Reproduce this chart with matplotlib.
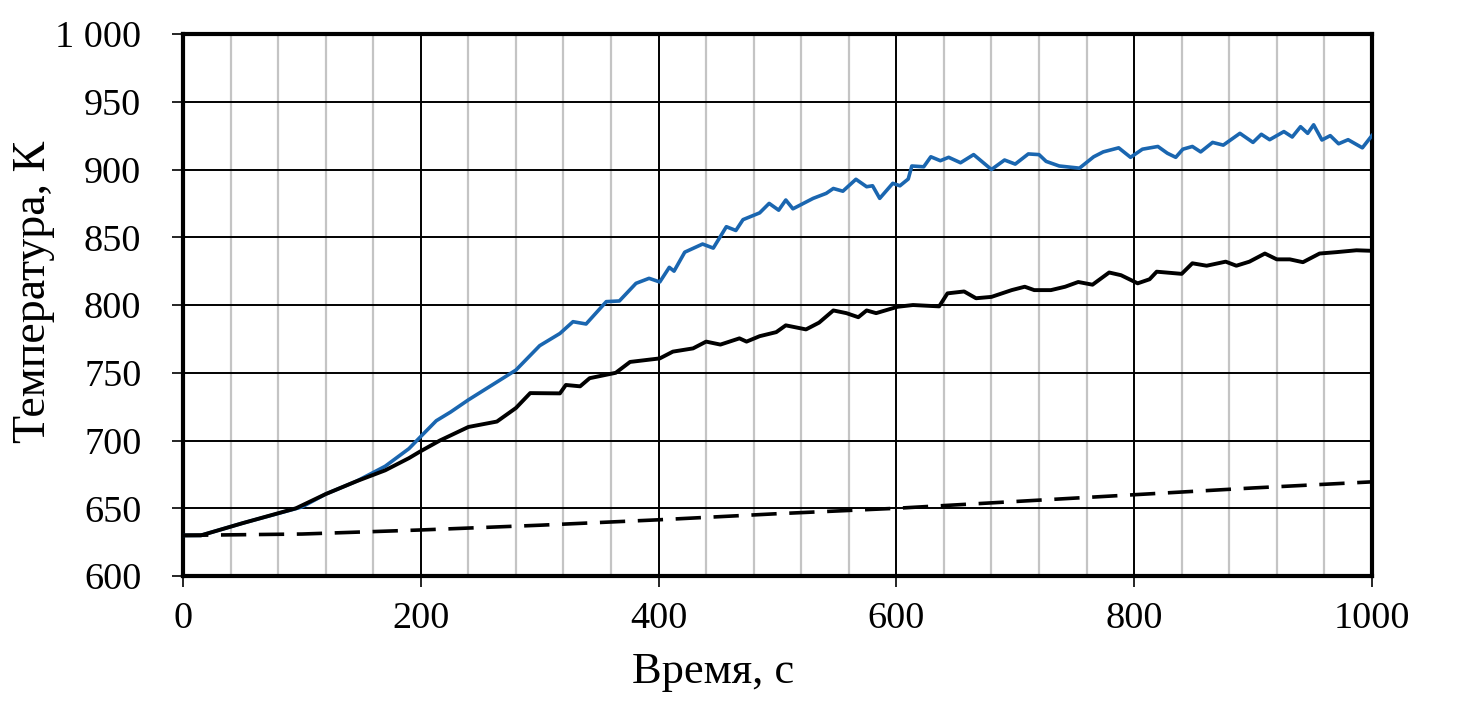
"""Temperature vs time: three curves (blue, black solid, black dashed)."""
import matplotlib
matplotlib.use("Agg")
import matplotlib.pyplot as plt
from matplotlib.ticker import MultipleLocator, FuncFormatter

plt.rcParams["font.family"] = ["Liberation Serif", "DejaVu Serif"]

# Values
blue_t = [0, 15, 50, 100, 120, 146, 170, 190, 200, 213, 225, 240, 260, 280, 300,
          317, 328, 339, 356, 367, 381, 392, 401, 409, 413, 422, 437, 446, 457, 465,
          471, 485, 493, 501, 507, 513, 530, 541, 547, 555, 566, 575, 580, 586, 597,
          603, 610, 613, 623, 629, 637, 644, 654, 665, 680, 691, 700, 711, 720, 726,
          737, 754, 766, 774, 787, 797, 807, 820, 828, 835, 841, 849, 856, 866, 875,
          889, 900, 907, 914, 926, 933, 940, 946, 951, 958, 965, 972, 980, 992, 1000]
blue_T = [630, 630, 639, 651, 660.5, 670, 681, 694, 703, 714.6, 721, 730, 741, 752, 770,
          779, 787.7, 786, 802.5, 803, 816, 819.7, 817, 827.8, 825, 839, 845, 842, 857.8, 855,
          863, 868, 875, 870, 877.5, 871, 878.7, 882.4, 886, 884, 892.8, 887.3, 888, 878.7, 889.8,
          888, 893, 902.6, 902, 909.4, 906.5, 909, 905, 911, 900, 907, 904, 911.5, 911, 906,
          902.6, 901, 909.4, 913, 916, 909, 915, 917, 912, 909, 915, 917, 913, 920, 918,
          926.7, 920, 926, 922, 928, 924, 931.6, 926.7, 933, 921.8, 925, 919, 922, 916, 925]

black_t = [0, 15, 50, 95, 120, 146, 170, 190, 199, 216, 240, 264, 280, 292, 317,
           322, 334, 342, 364, 376, 401, 412, 429, 440, 452, 468, 474, 485, 499, 507,
           524, 535, 547, 558, 568, 575, 583, 601, 614, 636, 643, 657, 667, 680, 697,
           708, 716, 730, 742, 753, 765, 779, 789, 803, 813, 819, 840, 849, 861, 877,
           886, 897, 910, 920, 931, 942, 956, 970, 987, 1000]
black_T = [630, 630, 639, 650, 660.5, 670, 678, 687, 691.7, 700, 710, 714, 724, 735, 734.8,
           741, 740, 746, 750, 758, 760.6, 765.6, 768, 773, 770.8, 775.4, 773, 777, 780, 785,
           782, 787, 796, 794, 791, 796, 794, 798.7, 800, 799, 808.6, 810, 805, 806, 811,
           813.5, 811, 811, 813.5, 817, 815, 824, 822, 816, 819, 824.6, 823, 830.8, 829, 832,
           829, 832, 838, 833.7, 833.7, 831.6, 838, 839, 840.4, 840]

dash_t = [0, 100, 200, 300, 400, 500, 600, 700, 800, 900, 1000]
dash_T = [630, 631, 634, 637.5, 641.5, 646, 650, 655, 660, 665, 669.5]

fig = plt.figure(figsize=(14.61, 7.13), dpi=100)
ax = fig.add_axes([0.1253, 0.1921, 0.8137, 0.7602])

ax.plot(blue_t, blue_T, color="#1a66b0", lw=2.6, zorder=3)
ax.plot(black_t, black_T, color="black", lw=2.8, zorder=4)
ax.plot(dash_t, dash_T, color="black", lw=2.6, dashes=(7, 3.5), zorder=4)

ax.set_xlim(0, 1000)
ax.set_ylim(600, 1000)
ax.xaxis.set_major_locator(MultipleLocator(200))
ax.xaxis.set_minor_locator(MultipleLocator(40))
ax.yaxis.set_major_locator(MultipleLocator(50))
ax.yaxis.set_major_formatter(FuncFormatter(lambda v, p: "1 000" if v >= 1000 else f"{v:.0f}"))

ax.grid(which="minor", axis="x", color="#c4c4c4", lw=1.6, zorder=1)
ax.grid(which="major", color="black", lw=1.4, zorder=2)
ax.set_axisbelow(True)

for s in ax.spines.values():
    s.set_linewidth(3)
ax.tick_params(which="major", direction="out", length=8, width=1.2, labelsize=27.5, color="black")
ax.tick_params(axis="y", pad=22)
ax.tick_params(axis="x", pad=10)
ax.tick_params(which="minor", length=0)

ax.set_xlabel("Время, с", fontsize=32)
ax.set_ylabel("Температура, К", fontsize=33)
ax.xaxis.set_label_coords(0.446, -0.14)
ax.yaxis.set_label_coords(-0.108, 0.524)

fig.savefig("out.png", dpi=100)
